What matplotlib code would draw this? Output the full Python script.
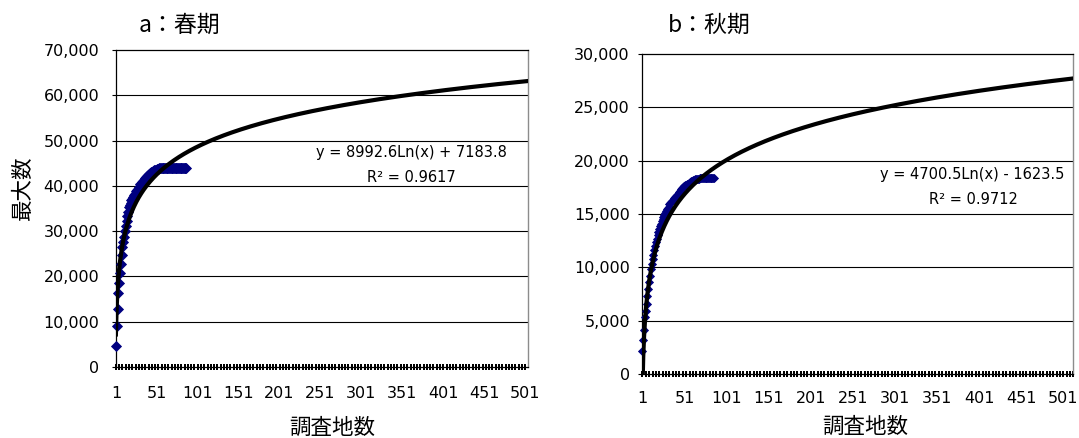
import numpy as np
import matplotlib
matplotlib.use("Agg")
import matplotlib.pyplot as plt
from matplotlib.ticker import FuncFormatter, FixedLocator

# ---------------- data ----------------
spring_max = [4600, 9100, 12900, 16300, 18500, 20700, 22700, 24700, 26500, 27700,
              28800, 30000, 31100, 32200, 33300, 34300, 35300, 35800, 36300, 36800,
              37200, 37600, 37900, 38200, 38500, 38800, 39100, 39400, 39700, 40000,
              40300, 40500, 40800, 41000, 41200, 41500, 41700, 41900, 42100, 42300,
              42500, 42700, 42900, 43000, 43100, 43200, 43300, 43400, 43500, 43600,
              43700, 43750, 43800, 43850, 43900, 43950, 43950, 43950, 43950, 43950,
              44000, 44000, 44000, 44000, 44000, 44000, 44000, 44000, 44000, 44000,
              44050, 44050, 44050, 44050, 44050, 44050, 44050, 44050, 44050, 44050,
              44050, 44050, 44050, 44050, 44050, 44050, 44050]
autumn_max = [2200, 3200, 4100, 5300, 5900, 6600, 7300, 8000, 8600, 9200,
              9800, 10300, 10800, 11200, 11600, 12000, 12400, 12700, 13000, 13300,
              13600, 13900, 14100, 14300, 14500, 14700, 14900, 15100, 15300, 15500,
              15600, 15700, 15900, 16000, 16100, 16200, 16300, 16400, 16500, 16600,
              16700, 16800, 16900, 17000, 17100, 17200, 17300, 17400, 17500, 17600,
              17650, 17700, 17750, 17800, 17850, 17900, 17950, 18000, 18050, 18100,
              18150, 18200, 18200, 18250, 18250, 18300, 18300, 18300, 18350, 18350,
              18350, 18350, 18400, 18400, 18400, 18400, 18400, 18400, 18400, 18400,
              18400, 18400, 18400, 18400, 18400, 18400]

# logarithmic trend lines shown on the chart: y = a*Ln(x) + b
spring_trend = (8992.6, 7183.8)
autumn_trend = (4700.5, -1623.5)
spring_eq = ["y = 8992.6Ln(x) + 7183.8", "R² = 0.9617"]
autumn_eq = ["y = 4700.5Ln(x) - 1623.5", "R² = 0.9712"]

spring_ncat = 504
autumn_ncat = 513
xtick_labels = ["1", "51", "101", "151", "201", "251", "301", "351", "401", "451", "501"]
spring_yticks = [0, 10000, 20000, 30000, 40000, 50000, 60000, 70000]
autumn_yticks = [0, 5000, 10000, 15000, 20000, 25000, 30000]
titles = ["a：春期", "b：秋期"]
ylabel = "最大数"
xlabel = "調査地数"

# ---------------- figure ----------------
W, H = 1079, 438
fig = plt.figure(figsize=(W / 100, H / 100), dpi=100)
CJK = ["Noto Sans CJK JP", "DejaVu Sans"]
NAVY = "#000080"
BAR = [(-0.24, -0.5), (0.24, -0.5), (0.24, 0.5), (-0.24, 0.5)]


def px(x, y):
    return x / W, 1 - y / H


def panel(rect, values, trend, ncat, yticks, eq, eq_pos, ms, lpad, xpad):
    ax = fig.add_axes(rect)
    cats = np.arange(1, ncat + 1)
    a, b = trend
    ax.plot(cats, np.zeros(ncat), ls="none", marker=BAR, ms=4.4, mew=0,
            color="black", markevery=4, zorder=2, clip_on=False)
    xs = np.arange(1, len(values) + 1)
    ax.plot(xs, values, ls="none", marker="D", ms=ms, color=NAVY,
            mec=NAVY, mew=0.6, zorder=3, clip_on=False)
    ax.plot(cats, a * np.log(cats) + b, color="black", lw=3.0, zorder=4,
            solid_joinstyle="round")
    ax.set_xlim(1, ncat)
    ax.set_ylim(yticks[0], yticks[-1])
    ax.yaxis.set_major_locator(FixedLocator(yticks))
    ax.yaxis.set_major_formatter(FuncFormatter(lambda v, p: f"{int(v):,}"))
    ax.set_xticks([int(t) for t in xtick_labels])
    ax.set_xticklabels(xtick_labels)
    for t in yticks[1:-1]:
        ax.axhline(t, color="black", lw=0.8, zorder=1)
    ax.tick_params(axis="y", length=3, width=0.8, pad=lpad, labelsize=11.5)
    ax.tick_params(axis="x", length=0, pad=xpad, labelsize=11.5)
    for s in ["left", "bottom", "top"]:
        ax.spines[s].set_color("black")
        ax.spines[s].set_linewidth(0.9)
    ax.spines["right"].set_color("#8c8c8c")
    ax.spines["right"].set_linewidth(1.0)
    for i, line in enumerate(eq):
        x, y = eq_pos[i]
        fig.text(*px(x, y), line, ha="center", va="center", fontsize=10.5)
    return ax


panel([115.9 / W, 1 - 367 / H, (527.6 - 115.9) / W, (367 - 50) / H],
      spring_max, spring_trend, spring_ncat, spring_yticks, spring_eq,
      [(411, 153), (411, 178)], 5.4, 9.0, 14)
panel([642.4 / W, 1 - 374 / H, (1073.5 - 642.4) / W, (374 - 54) / H],
      autumn_max, autumn_trend, autumn_ncat, autumn_yticks, autumn_eq,
      [(972.5, 175), (973.4, 200)], 4.4, 6.0, 12)

fig.text(*px(138.8, 25), titles[0], ha="left", va="center", fontsize=16.5, family=CJK)
fig.text(*px(667.4, 25), titles[1], ha="left", va="center", fontsize=16.5, family=CJK)
fig.text(*px(23, 188), ylabel, ha="center", va="center", rotation=90, fontsize=15.5, family=CJK)
fig.text(*px(332, 428), xlabel, ha="center", va="center", fontsize=15.5, family=CJK)
fig.text(*px(865, 427), xlabel, ha="center", va="center", fontsize=15.5, family=CJK)

fig.savefig("out.png", dpi=100)
